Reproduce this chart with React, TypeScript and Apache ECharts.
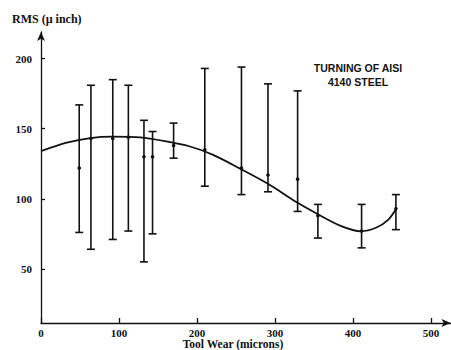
import React, { useEffect, useRef } from "react";
import * as echarts from "echarts";

const wear = [49, 64, 92, 112, 132, 143, 170, 210, 257, 291, 329, 355, 411, 455];
const rmsMean = [122, 143, 143, 144, 130, 130, 138, 135, 122, 117, 114, 88, 77, 93];
const rmsLow = [76, 64, 71, 77, 55, 75, 129, 109, 103, 105, 91, 72, 65, 78];
const rmsHigh = [167, 181, 185, 181, 156, 148, 154, 193, 194, 182, 177, 96, 96, 103];

const fitX = [0, 33, 63, 92, 127, 160, 190, 220, 257, 291, 328, 355, 385, 410, 430, 445, 455];
const fitY = [134, 140, 143.3, 144.3, 143.8, 141, 137.5, 131.5, 121, 110.7, 97.5, 89, 80.5, 76.8, 79.5, 85, 92.6];

const xTicks = [0, 100, 200, 300, 400, 500];
const yTicks = [50, 100, 150, 200];

const serif = "'Liberation Serif', 'DejaVu Serif', serif";
const sans = "'Liberation Sans', Arial, sans-serif";

export default function App() {
  const ref = useRef<HTMLDivElement>(null);
  useEffect(() => {
    if (!ref.current) return;
    const chart = echarts.init(ref.current, null, { renderer: "svg" });
    const errData = wear.map((w, i) => [w, rmsLow[i], rmsHigh[i], rmsMean[i]]);
    const fitData = fitX.map((x, i) => [x, fitY[i]]);
    chart.setOption({
      animation: false,
      backgroundColor: "#ffffff",
      grid: { left: 41, right: 0.5, top: 32, bottom: 27 },
      xAxis: {
        type: "value",
        min: 0,
        max: 525,
        splitLine: { show: false },
        axisLine: {
          show: true,
          lineStyle: { color: "#111", width: 1.3 },
          symbol: ["none", "arrow"],
          symbolSize: [6, 9],
        },
        axisTick: {
          show: true,
          inside: true,
          length: 5,
          customValues: xTicks,
          lineStyle: { color: "#111", width: 1.3 },
        },
        axisLabel: {
          customValues: xTicks,
          margin: 4,
          color: "#111",
          fontFamily: serif,
          fontWeight: "bold",
          fontSize: 11,
          lineHeight: 11,
        },
      },
      yAxis: {
        type: "value",
        min: 11.4,
        max: 219,
        splitLine: { show: false },
        axisLine: {
          show: true,
          lineStyle: { color: "#111", width: 1.3 },
          symbol: ["none", "arrow"],
          symbolSize: [6, 9],
        },
        axisTick: {
          show: true,
          inside: true,
          length: 4,
          customValues: yTicks,
          lineStyle: { color: "#111", width: 1.3 },
        },
        axisLabel: {
          customValues: yTicks,
          margin: 9,
          color: "#111",
          fontFamily: serif,
          fontWeight: "bold",
          fontSize: 11,
        },
      },
      graphic: [
        {
          type: "text",
          left: 12,
          top: 13,
          style: {
            text: "RMS (µ inch)",
            fill: "#111",
            font: `bold 12px ${serif}`,
          },
        },
        {
          type: "text",
          x: 233,
          y: 343.5,
          style: {
            text: "Tool Wear (microns)",
            fill: "#111",
            font: `bold 11.5px ${serif}`,
            textAlign: "center",
            textVerticalAlign: "middle",
          },
        },
        {
          type: "text",
          x: 358,
          y: 68,
          style: {
            text: "TURNING OF AISI",
            fill: "#111",
            font: `bold 10.5px ${sans}`,
            textAlign: "center",
            textVerticalAlign: "middle",
          },
        },
        {
          type: "text",
          x: 358,
          y: 82,
          style: {
            text: "4140 STEEL",
            fill: "#111",
            font: `bold 10.5px ${sans}`,
            textAlign: "center",
            textVerticalAlign: "middle",
          },
        },
      ],
      series: [
        {
          type: "line",
          data: fitData,
          smooth: 0.3,
          showSymbol: false,
          lineStyle: { color: "#111", width: 1.8 },
          z: 2,
        },
        {
          type: "custom",
          data: errData,
          z: 3,
          renderItem: (params: any, api: any) => {
            const x = api.value(0);
            const lo = api.coord([x, api.value(1)]);
            const hi = api.coord([x, api.value(2)]);
            const mid = api.coord([x, api.value(3)]);
            const cap = 4;
            const style = { stroke: "#111", lineWidth: 1.6 };
            return {
              type: "group",
              children: [
                { type: "line", shape: { x1: lo[0], y1: lo[1], x2: hi[0], y2: hi[1] }, style },
                { type: "line", shape: { x1: lo[0] - cap, y1: lo[1], x2: lo[0] + cap, y2: lo[1] }, style },
                { type: "line", shape: { x1: hi[0] - cap, y1: hi[1], x2: hi[0] + cap, y2: hi[1] }, style },
                { type: "circle", shape: { cx: mid[0], cy: mid[1], r: 1.8 }, style: { fill: "#111" } },
              ],
            };
          },
        },
      ],
    });
    return () => chart.dispose();
  }, []);
  return <div ref={ref} style={{ width: 451, height: 350, position: "absolute", left: 0, top: 0 }} />;
}
